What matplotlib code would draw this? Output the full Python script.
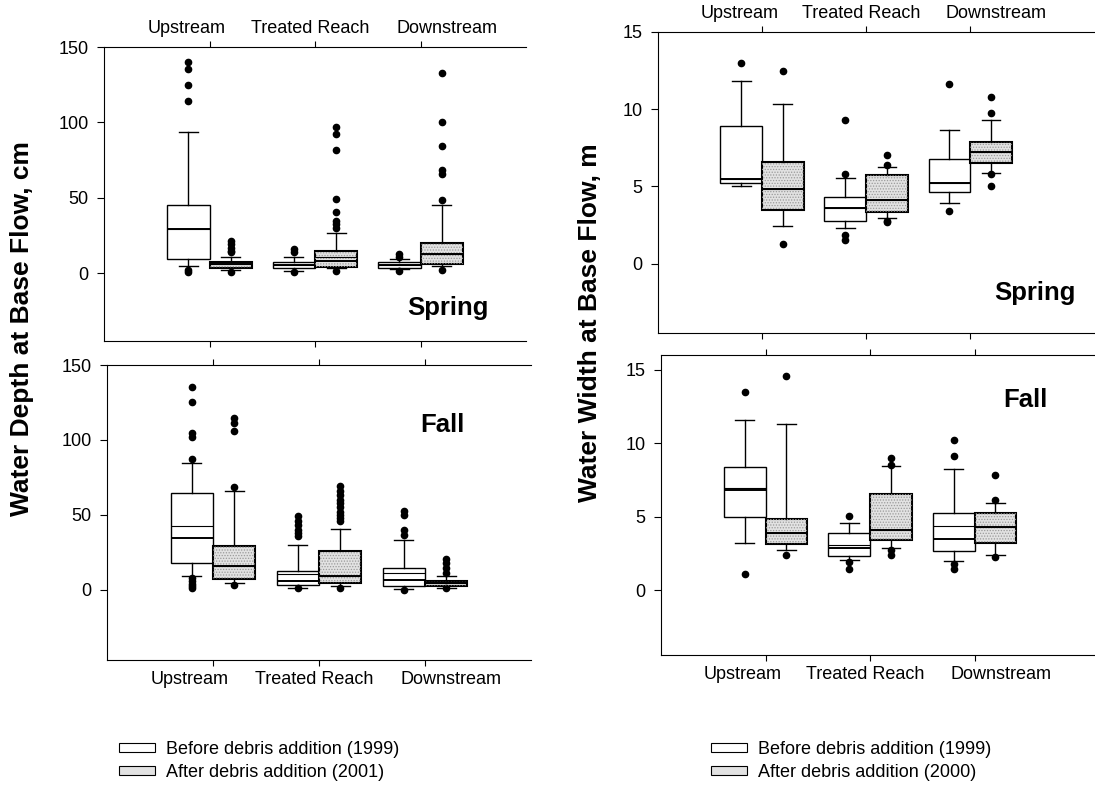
import matplotlib
matplotlib.use("Agg")
import numpy as np
import matplotlib.pyplot as plt
from matplotlib.patches import PathPatch, Patch

plt.rcParams["font.family"] = ["Liberation Sans", "DejaVu Sans"]
plt.rcParams["hatch.linewidth"] = 0.6

SITES = ["Upstream", "Treated Reach", "Downstream"]
LEGEND_DEPTH = ["Before debris addition (1999)", "After debris addition (2001)"]
LEGEND_WIDTH = ["Before debris addition (1999)", "After debris addition (2000)"]

# each box: (lower whisker, q1, median, mean, q3, upper whisker), one per site
spring_depth_before = [(4.9, 9.3, 29.1, 29.1, 45.2, 93.8), (1.5, 3.5, 5.3, 5.3, 7.7, 11.0), (2.6, 3.5, 5.3, 5.3, 7.1, 9.7)]
spring_depth_before_out = [[140.3, 135.4, 125.0, 114.0, 2.0, 1.0], [15.9, 14.0, 0.9], [12.6, 11.0, 1.5]]
spring_depth_after = [(2.2, 3.1, 6.0, 6.0, 7.7, 11.0), (3.1, 4.4, 8.2, 10.4, 14.8, 26.9), (4.9, 6.0, 12.6, 12.6, 20.3, 45.2)]
spring_depth_after_out = [[21.4, 19.2, 17.0, 15.0, 13.7, 1.0],
                          [96.8, 92.0, 82.0, 49.4, 40.6, 34.6, 32.4, 30.2, 1.5],
                          [133.0, 100.4, 84.3, 68.2, 65.5, 48.3, 2.2]]

fall_depth_before = [(8.9, 17.8, 34.4, 42.2, 64.4, 84.4), (1.1, 3.3, 5.8, 10.4, 12.7, 30.0), (0.4, 2.2, 6.2, 11.1, 14.4, 33.3)]
fall_depth_before_out = [[135.5, 125.6, 104.4, 102.2, 87.3, 7.8, 6.0, 4.0, 2.5, 1.0],
                         [48.9, 45.5, 43.0, 40.0, 38.0, 36.0, 1.0],
                         [52.2, 50.0, 40.0, 36.7, 0.0]]
fall_depth_after = [(4.4, 7.1, 15.6, 15.6, 28.9, 65.6), (2.2, 4.4, 8.9, 8.9, 25.6, 40.7), (1.1, 2.2, 4.4, 4.4, 5.6, 9.3)]
fall_depth_after_out = [[114.9, 111.0, 105.6, 68.2, 3.3],
                        [68.9, 66.0, 63.0, 60.0, 58.0, 55.0, 52.0, 50.0, 48.0, 46.0, 1.0],
                        [20.7, 17.8, 14.4, 11.1, 1.0]]

spring_width_before = [(5.02, 5.2, 5.48, 5.48, 8.92, 11.8), (2.29, 2.73, 3.57, 3.57, 4.29, 5.52), (3.9, 4.65, 5.2, 5.2, 6.78, 8.66)]
spring_width_before_out = [[13.0], [9.27, 5.8, 1.84, 1.54], [11.65, 3.42]]
spring_width_after = [(2.4, 3.46, 4.83, 4.83, 6.56, 10.35), (2.94, 3.31, 4.14, 4.14, 5.74, 6.24), (5.87, 6.5, 7.21, 7.21, 7.86, 9.33)]
spring_width_after_out = [[12.45, 1.26], [7.04, 6.39, 2.77, 2.66], [10.78, 9.76, 5.8, 5.04]]

fall_width_before = [(3.22, 4.99, 6.84, 6.96, 8.36, 11.6), (2.04, 2.31, 2.88, 3.06, 3.9, 4.6), (1.97, 2.7, 3.49, 4.35, 5.28, 8.27)]
fall_width_before_out = [[13.48, 1.09], [5.03, 1.93, 1.47], [10.22, 9.11, 1.77, 1.43]]
fall_width_after = [(2.76, 3.13, 3.92, 3.92, 4.87, 11.33), (2.9, 3.4, 4.08, 4.08, 6.57, 8.45), (2.42, 3.22, 4.31, 4.31, 5.26, 5.94)]
fall_width_after_out = [[14.6, 2.42], [9.02, 8.5, 2.72, 2.42], [7.82, 6.12, 2.27]]

AFTER_FACE = "#e2e2e2"
LABEL_SHIFT = [-0.22, -0.05, 0.25]


def box_stats(rows, fliers):
    return [dict(whislo=r[0], q1=r[1], med=r[2], mean=r[3], q3=r[4], whishi=r[5], fliers=f)
            for r, f in zip(rows, fliers)]


def draw_panel(ax, before, before_out, after, after_out, ylim, yticks, xmax, season, season_xy, top):
    pos = np.arange(1, len(SITES) + 1)
    for rows, out, offset, face, lw in [(before, before_out, -0.2, "white", 1.0),
                                        (after, after_out, 0.2, AFTER_FACE, 1.5)]:
        bp = ax.bxp(box_stats(rows, out), positions=pos + offset, widths=0.4, patch_artist=True,
                    showmeans=True, meanline=True, capwidths=0.18, manage_ticks=False,
                    boxprops=dict(facecolor=face, edgecolor="black", linewidth=lw),
                    medianprops=dict(color="black", linewidth=1.4),
                    meanprops=dict(color="black", linewidth=0.8, linestyle="-"),
                    whiskerprops=dict(color="black", linewidth=1.0),
                    capprops=dict(color="black", linewidth=1.0),
                    flierprops=dict(marker="o", markerfacecolor="black", markeredgecolor="black",
                                    markersize=4.5, linestyle="none"))
        if face != "white":
            # stipple texture inside the after boxes
            for patch in bp["boxes"]:
                ax.add_patch(PathPatch(patch.get_path(), fill=False, hatch="......",
                                       edgecolor="#9a9a9a", linewidth=0, zorder=patch.get_zorder()))

    ax.set_xlim(0, xmax)
    ax.set_ylim(*ylim)
    ax.set_yticks(yticks)
    ax.set_xticks(pos)
    ax.set_xticklabels([])
    ax.spines["right"].set_visible(False)
    ax.tick_params(axis="x", top=True, bottom=True, direction="out", length=4)
    ax.tick_params(axis="y", direction="out", length=5, pad=6, labelsize=13)

    trans = ax.get_xaxis_transform()
    for p, name, dx in zip(pos, SITES, LABEL_SHIFT):
        if top:
            ax.text(p + dx, 1.033, name, transform=trans, ha="center", va="bottom", fontsize=13)
        else:
            ax.text(p + dx, -0.037, name, transform=trans, ha="center", va="top", fontsize=13)

    ax.text(season_xy[0], season_xy[1], season, transform=ax.transAxes, ha="center", va="center",
            fontsize=18.5, fontweight="bold")


fig = plt.figure(figsize=(10.95, 7.9), dpi=100)
W, H = 1095.0, 790.0


def axes_px(left, top, width, bottom):
    return fig.add_axes([left / W, 1 - bottom / H, width / W, (bottom - top) / H])


ax_tl = axes_px(104, 47, 422, 341)
ax_bl = axes_px(107, 365, 424, 660)
ax_tr = axes_px(658, 32, 437, 333)
ax_br = axes_px(661, 355, 439, 655)

draw_panel(ax_tl, spring_depth_before, spring_depth_before_out, spring_depth_after, spring_depth_after_out,
           (-45, 150), [0, 50, 100, 150], 4.0, "Spring", (0.815, 0.112), True)
draw_panel(ax_bl, fall_depth_before, fall_depth_before_out, fall_depth_after, fall_depth_after_out,
           (-47, 150), [0, 50, 100, 150], 4.0, "Fall", (0.79, 0.797), False)
draw_panel(ax_tr, spring_width_before, spring_width_before_out, spring_width_after, spring_width_after_out,
           (-4.5, 15), [0, 5, 10, 15], 4.2, "Spring", (0.863, 0.133), True)
draw_panel(ax_br, fall_width_before, fall_width_before_out, fall_width_after, fall_width_after_out,
           (-4.4, 16), [0, 5, 10, 15], 4.2, "Fall", (0.83, 0.85), False)

fig.text(22 / W, 1 - 329 / H, "Water Depth at Base Flow, cm", rotation=90, ha="center", va="center",
         fontsize=19, fontweight="bold")
fig.text(590 / W, 1 - 323 / H, "Water Width at Base Flow, m", rotation=90, ha="center", va="center",
         fontsize=19, fontweight="bold")

for labels, x in [(LEGEND_DEPTH, 119), (LEGEND_WIDTH, 711)]:
    handles = [Patch(facecolor="white", edgecolor="black", linewidth=0.8),
               Patch(facecolor=AFTER_FACE, edgecolor="black", linewidth=0.8)]
    fig.legend(handles, labels, loc="center left", bbox_to_anchor=(x / W, 1 - 761 / H), frameon=False,
               fontsize=13, handlelength=2.0, handleheight=0.4, handletextpad=0.6, labelspacing=0.35,
               borderpad=0, borderaxespad=0)

fig.savefig("out.png", dpi=100)
